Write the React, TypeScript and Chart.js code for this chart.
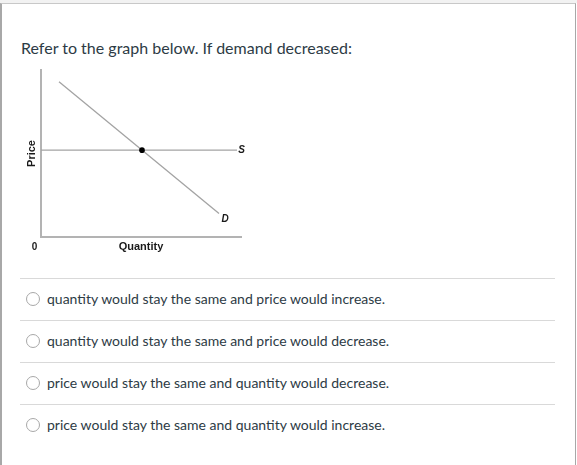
import React, { useEffect, useRef } from "react";
import { Chart, registerables } from "chart.js";

Chart.register(...registerables);

const question = "Refer to the graph below. If demand decreased:";
const options = [
  "quantity would stay the same and price would increase.",
  "quantity would stay the same and price would decrease.",
  "price would stay the same and quantity would decrease.",
  "price would stay the same and quantity would increase.",
];

const demandX = [0.9, 8.9];
const demandY = [9.3, 1.4];
const supplyX = [0, 9.8];
const supplyY = [5.2, 5.2];
const equilibriumX = [5.05];
const equilibriumY = [5.2];
const curveLabels = ["D", "S"];
const xTitle = "Quantity";
const yTitle = "Price";
const originLabel = "0";

const toPoints = (xs: number[], ys: number[]) => xs.map((x, i) => ({ x, y: ys[i] }));

const labelPlugin = {
  id: "curveLabels",
  afterDatasetsDraw(chart: any) {
    const ctx = chart.ctx;
    ctx.save();
    ctx.fillStyle = "#1a1a1a";
    ctx.textAlign = "center";
    ctx.textBaseline = "middle";
    ctx.font = "italic bold 10px 'Liberation Sans', Arial, sans-serif";
    const dMeta = chart.getDatasetMeta(0);
    const dEnd = dMeta.data[dMeta.data.length - 1];
    ctx.fillText(curveLabels[0], dEnd.x + 6, dEnd.y + 5.5);
    const sMeta = chart.getDatasetMeta(1);
    const sEnd = sMeta.data[sMeta.data.length - 1];
    ctx.fillText(curveLabels[1], sEnd.x + 4.5, sEnd.y + 0.5);
    ctx.font = "bold 10px 'Liberation Sans', Arial, sans-serif";
    const xs = chart.scales.x;
    const ys = chart.scales.y;
    ctx.fillText(originLabel, xs.getPixelForValue(0) - 6.5, ys.getPixelForValue(0) + 10);
    ctx.restore();
  },
};

function EconChart() {
  const ref = useRef<HTMLCanvasElement | null>(null);
  useEffect(() => {
    if (!ref.current) return;
    const axisFont = { family: "'Liberation Sans', Arial, sans-serif", size: 11, weight: "bold" as const };
    const chart = new Chart(ref.current, {
      type: "scatter",
      data: {
        datasets: [
          {
            data: toPoints(demandX, demandY),
            showLine: true,
            borderColor: "#a3a3a3",
            borderWidth: 1.3,
            pointRadius: 0,
            order: 2,
          },
          {
            data: toPoints(supplyX, supplyY),
            showLine: true,
            borderColor: "#a3a3a3",
            borderWidth: 1.3,
            pointRadius: 0,
            order: 2,
          },
          {
            data: toPoints(equilibriumX, equilibriumY),
            showLine: false,
            pointRadius: 2.8,
            pointBackgroundColor: "#000",
            pointBorderColor: "#000",
            pointBorderWidth: 0,
            order: 0,
          },
        ],
      },
      options: {
        animation: false,
        responsive: false,
        maintainAspectRatio: false,
        layout: { padding: { left: 0, top: 10, right: 29, bottom: 0 } },
        plugins: { legend: { display: false }, tooltip: { enabled: false } },
        scales: {
          x: {
            type: "linear",
            min: 0,
            max: 10,
            grid: { display: false },
            border: { display: true, color: "#b3b3b3", width: 2 },
            ticks: { display: false },
            title: { display: true, text: xTitle, font: axisFont, color: "#1a1a1a", padding: { top: 0, bottom: 6 } },
            afterFit: (s: any) => {
              s.height = 23;
            },
          },
          y: {
            type: "linear",
            min: 0,
            max: 10,
            grid: { display: false },
            border: { display: true, color: "#b3b3b3", width: 2 },
            ticks: { display: false },
            title: { display: true, text: yTitle, font: axisFont, color: "#1a1a1a", padding: { top: 5, bottom: 0 } },
            afterFit: (s: any) => {
              s.width = 21;
            },
          },
        },
      },
      plugins: [labelPlugin],
    });
    return () => chart.destroy();
  }, []);
  return (
    <canvas
      ref={ref}
      width={250}
      height={200}
      style={{ position: "absolute", left: 20, top: 60, width: 250, height: 200 }}
    />
  );
}

export default function App() {
  const textColor = "#2d3b45";
  return (
    <div
      style={{
        position: "fixed",
        left: 0,
        top: 0,
        width: 577,
        height: 465,
        background: "#fff",
        fontFamily: "Lato, 'Open Sans', sans-serif",
        overflow: "hidden",
      }}
    >
      <div style={{ position: "absolute", left: 0, top: 0, width: 577, height: 3, background: "#f2f2f2" }} />
      <div
        style={{
          position: "absolute",
          left: 0,
          top: 3,
          width: 576,
          height: 470,
          boxSizing: "border-box",
          borderTop: "1px solid #c8c8c8",
          borderLeft: "2px solid #a8a8a8",
          borderRight: "1px solid #a8a8a8",
        }}
      />
      <div
        style={{
          position: "absolute",
          left: 21,
          top: 38,
          fontSize: 16,
          lineHeight: "20px",
          color: textColor,
          whiteSpace: "nowrap",
        }}
      >
        {question}
      </div>
      <EconChart />
      {options.map((opt, i) => (
        <React.Fragment key={i}>
          <div
            style={{
              position: "absolute",
              left: 20,
              top: 278 + 42 * i,
              width: 535,
              height: 1,
              background: "#d9d9d9",
            }}
          />
          <div
            style={{
              position: "absolute",
              left: 26,
              top: 292 + 42 * i,
              width: 14,
              height: 14,
              boxSizing: "border-box",
              borderRadius: "50%",
              border: "1px solid #a8a8a8",
              background: "#fff",
            }}
          />
          <div
            style={{
              position: "absolute",
              left: 47,
              top: 289 + 42 * i,
              fontSize: 14,
              lineHeight: "20px",
              color: textColor,
              whiteSpace: "nowrap",
            }}
          >
            {opt}
          </div>
        </React.Fragment>
      ))}
    </div>
  );
}
